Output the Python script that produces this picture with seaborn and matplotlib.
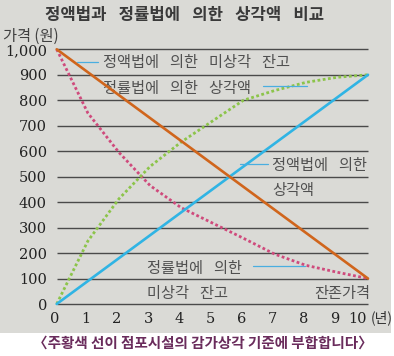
import pandas as pd
import matplotlib.pyplot as plt
import matplotlib.patches as mpatches
import matplotlib.transforms as mtransforms
import seaborn as sns

# ------------------------------
# Data
# ------------------------------
years = [0, 1, 2, 3, 4, 5, 6, 7, 8, 9, 10]
# straight-line method
sl_book = [1000, 910, 820, 730, 640, 550, 460, 370, 280, 190, 100]
sl_depr = [0, 90, 180, 270, 360, 450, 540, 630, 720, 810, 900]
# declining-balance method
db_book = [1000, 750, 595, 465, 378, 318, 258, 196, 152, 125, 100]
db_depr = [0, 247, 413, 540, 636, 718, 800, 838, 870, 890, 900]

y_ticks = [0, 100, 200, 300, 400, 500, 600, 700, 800, 900, 1000]
y_labels = ['0', '100', '200', '300', '400', '500', '600', '700', '800', '900', '1,000']
x_labels = [str(v) for v in years]

df = pd.DataFrame({'year': years, 'sl_book': sl_book, 'sl_depr': sl_depr,
                   'db_book': db_book, 'db_depr': db_depr})

sns.set_style('white')
plt.rcParams['font.family'] = ['Noto Sans CJK KR', 'DejaVu Sans']

W, H = 394, 356
fig = plt.figure(figsize=(W / 100, H / 100), dpi=100)
fig.patch.set_facecolor('white')

# photo background
fig.patches.append(mpatches.Rectangle((0, (H - 333) / H), 391 / W, 333 / H,
                                      transform=fig.transFigure, facecolor='#dadad6',
                                      edgecolor='none', zorder=-10))

ax = fig.add_axes([56.7 / W, (H - 304) / H, (368 - 56.7) / W, (304 - 49.3) / H])
ax.set_facecolor('none')
ax.set_xlim(0, 10)
ax.set_ylim(0, 1000)
for s in ax.spines.values():
    s.set_visible(False)

# horizontal rules
ax.hlines(y_ticks, 0, 10, colors='#4a4a4a', linewidth=1.0, clip_on=False, zorder=1)

dot = (0, (1, 0.9))
sns.lineplot(data=df, x='year', y='db_book', ax=ax, color='#cf4a7c', linewidth=2.0,
             linestyle=dot, clip_on=False, zorder=3)
sns.lineplot(data=df, x='year', y='db_depr', ax=ax, color='#8cc44a', linewidth=2.0,
             linestyle=dot, clip_on=False, zorder=3)
sns.lineplot(data=df, x='year', y='sl_depr', ax=ax, color='#30b4e4', linewidth=1.9,
             clip_on=False, zorder=4)
sns.lineplot(data=df, x='year', y='sl_book', ax=ax, color='#d0651c', linewidth=1.9,
             clip_on=False, zorder=5)

ax.set_xticks(years)
ax.set_xticklabels(x_labels, family='DejaVu Serif', fontsize=10.5, color='#222222')
ax.set_yticks(y_ticks)
ax.set_yticklabels(y_labels, family='DejaVu Serif', fontsize=10.5, color='#222222')
ax.tick_params(axis='both', length=0)
ax.tick_params(axis='y', pad=7)
ax.tick_params(axis='x', pad=6)
ax.set_xlabel('')
ax.set_ylabel('')

# nudge x labels a little left, the last one more so "(년)" fits
shift = mtransforms.ScaledTranslation(-0.02, 0, fig.dpi_scale_trans)
shift_last = mtransforms.ScaledTranslation(-0.10, 0, fig.dpi_scale_trans)
xtl = ax.get_xticklabels()
for lab in xtl[:-1]:
    lab.set_transform(lab.get_transform() + shift)
xtl[-1].set_transform(xtl[-1].get_transform() + shift_last)

# labels and leader lines
sp = ' \u2002'
txt = dict(fontsize=11, color='#505050', va='center', ha='left')
lead = dict(color='#4aaee0', linewidth=0.9, zorder=6)

ax.text(1.49, 949, sp.join(['정액법에', '의한', '미상각', '잔고']), **txt)
ax.plot([0.65, 1.33], [949, 949], **lead)

ax.text(1.49, 847, sp.join(['정률법에', '의한', '상각액']), **txt)
ax.plot([6.64, 8.05], [855, 855], **lead)

ax.text(6.93, 545, sp.join(['정액법에', '의한']), **txt)
ax.text(6.93, 447, '상각액', **txt)
ax.plot([5.9, 6.8], [549, 549], **lead)

ax.text(2.9, 141, sp.join(['정률법에', '의한']), **txt)
ax.text(2.9, 43, sp.join(['미상각', '잔고']), **txt)
ax.plot([6.32, 7.99], [149, 149], **lead)

ax.text(10.08, 43, '잔존가격', fontsize=11, color='#505050', va='center', ha='right')

fig.text(371 / W, 1 - 318 / H, '(년)', fontsize=10, color='#303030', va='center', ha='left')
fig.text(3 / W, 1 - 36 / H, '가격 (원)', fontsize=11, color='#404040', va='center', ha='left')
fig.text(185 / W, 1 - 15 / H, sp.join(['정액법과', '정률법에', '의한', '상각액', '비교']),
         fontsize=12, fontweight='bold', color='#3a3a3a', va='center', ha='center')

fig.text(203 / W, 1 - 343 / H, '〈주황색 선이 점포시설의 감가상각 기준에 부합합니다〉',
         fontsize=10.5, fontweight='bold', color='#6a2c5c', va='center', ha='center')

plt.savefig('out.png', dpi=100)
plt.close()
